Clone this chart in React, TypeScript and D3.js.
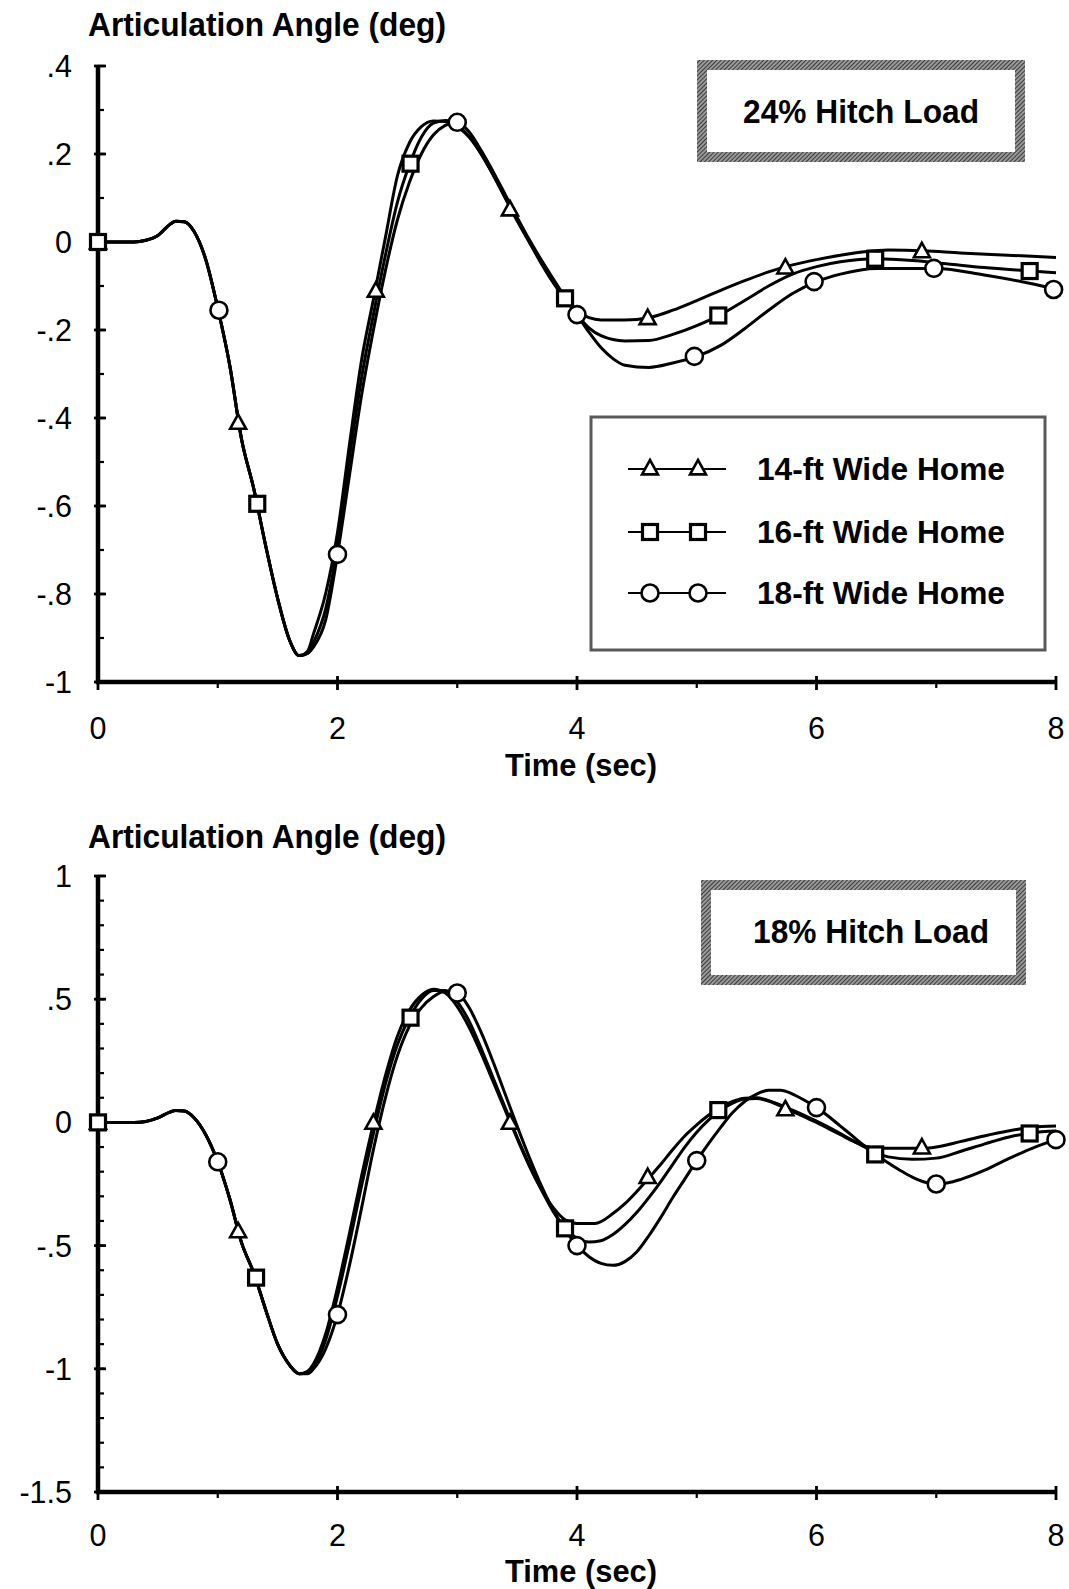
import React from "react";
import * as d3 from "d3";

// ---------- DATA ----------
const xTicks = [0, 2, 4, 6, 8];
const xMinor = [1, 3, 5, 7];
const topYTicks = [0.4, 0.2, 0, -0.2, -0.4, -0.6, -0.8, -1];
const topYLabels = [".4", ".2", "0", "-.2", "-.4", "-.6", "-.8", "-1"];
const botYTicks = [1, 0.5, 0, -0.5, -1, -1.5];
const botYLabels = ["1", ".5", "0", "-.5", "-1", "-1.5"];
const seriesNames = ["14-ft Wide Home", "16-ft Wide Home", "18-ft Wide Home"];
const topTitle = "24% Hitch Load";
const botTitle = "18% Hitch Load";

const topStart: [number, number][] = [[0,0],[0.3,0],[0.4,0.004],[0.5,0.015],[0.6,0.04],[0.65,0.047],[0.72,0.046],[0.8,0.025],[0.9,-0.04],[1.0,-0.15],[1.1,-0.28],[1.2,-0.45],[1.3,-0.56],[1.4,-0.69],[1.5,-0.81],[1.6,-0.905],[1.68,-0.94]];
const top14: [number, number][] = [[1.75,-0.93],[1.8,-0.89],[1.9,-0.8],[2.0,-0.66],[2.1,-0.46],[2.2,-0.27],[2.3,-0.13],[2.4,0.01],[2.5,0.15],[2.6,0.225],[2.7,0.262],[2.8,0.275],[2.9,0.274],[3.0,0.262],[3.1,0.238],[3.2,0.2],[3.3,0.152],[3.4,0.1],[3.5,0.048],[3.6,0.0],[3.7,-0.048],[3.8,-0.092],[3.9,-0.13],[4.0,-0.158],[4.1,-0.172],[4.2,-0.177],[4.4,-0.177],[4.6,-0.172],[4.8,-0.155],[5.0,-0.133],[5.2,-0.11],[5.4,-0.088],[5.6,-0.068],[5.8,-0.052],[6.0,-0.04],[6.2,-0.03],[6.4,-0.022],[6.6,-0.018],[6.9,-0.02],[7.2,-0.025],[7.6,-0.03],[8.0,-0.035]];
const top16: [number, number][] = [[1.75,-0.935],[1.8,-0.91],[1.9,-0.835],[2.0,-0.69],[2.1,-0.49],[2.2,-0.31],[2.3,-0.165],[2.4,-0.03],[2.5,0.09],[2.6,0.175],[2.7,0.238],[2.8,0.27],[2.9,0.276],[3.0,0.265],[3.1,0.24],[3.2,0.2],[3.3,0.153],[3.4,0.103],[3.5,0.052],[3.6,0.004],[3.7,-0.042],[3.8,-0.087],[3.9,-0.128],[4.0,-0.165],[4.1,-0.195],[4.2,-0.213],[4.4,-0.225],[4.6,-0.224],[4.8,-0.21],[5.0,-0.19],[5.2,-0.165],[5.4,-0.133],[5.6,-0.1],[5.8,-0.073],[6.0,-0.056],[6.2,-0.045],[6.5,-0.038],[6.8,-0.042],[7.1,-0.05],[7.4,-0.058],[7.8,-0.066],[8.0,-0.07]];
const top18: [number, number][] = [[1.75,-0.935],[1.8,-0.92],[1.9,-0.86],[2.0,-0.71],[2.1,-0.53],[2.2,-0.35],[2.3,-0.2],[2.4,-0.065],[2.5,0.05],[2.6,0.135],[2.7,0.2],[2.8,0.243],[2.9,0.265],[3.0,0.272],[3.1,0.25],[3.2,0.208],[3.3,0.16],[3.4,0.108],[3.5,0.056],[3.6,0.006],[3.7,-0.04],[3.8,-0.083],[3.9,-0.125],[4.0,-0.165],[4.1,-0.205],[4.2,-0.24],[4.3,-0.265],[4.4,-0.28],[4.6,-0.285],[4.8,-0.275],[5.0,-0.26],[5.2,-0.235],[5.4,-0.197],[5.6,-0.155],[5.8,-0.117],[6.0,-0.09],[6.2,-0.073],[6.5,-0.06],[7.0,-0.06],[7.4,-0.075],[7.8,-0.095],[8.0,-0.108]];
const topTri: [number, number][] = [[0,0],[1.17,-0.41],[2.32,-0.11],[3.44,0.075],[4.59,-0.172],[5.74,-0.057],[6.88,-0.02]];
const topSq: [number, number][] = [[0,0],[1.33,-0.595],[2.61,0.178],[3.9,-0.128],[5.18,-0.167],[6.49,-0.038],[7.78,-0.066]];
const topCirc: [number, number][] = [[1.01,-0.155],[2.0,-0.71],[3.0,0.272],[4.0,-0.165],[4.98,-0.26],[5.98,-0.09],[6.98,-0.06],[7.98,-0.108]];

const botStart: [number, number][] = [[0,0],[0.3,0],[0.4,0.004],[0.5,0.018],[0.6,0.042],[0.65,0.048],[0.72,0.046],[0.8,0.02],[0.9,-0.05],[1.0,-0.16],[1.1,-0.31],[1.2,-0.49],[1.3,-0.61],[1.4,-0.76],[1.5,-0.9],[1.6,-0.985],[1.68,-1.02]];
const bot14: [number, number][] = [[1.75,-1.01],[1.8,-0.98],[1.9,-0.86],[2.0,-0.67],[2.1,-0.45],[2.2,-0.22],[2.3,-0.005],[2.4,0.19],[2.5,0.35],[2.6,0.455],[2.7,0.515],[2.8,0.54],[2.9,0.525],[3.0,0.47],[3.1,0.385],[3.2,0.28],[3.3,0.165],[3.4,0.05],[3.5,-0.065],[3.6,-0.175],[3.7,-0.27],[3.8,-0.345],[3.9,-0.395],[4.0,-0.41],[4.15,-0.41],[4.3,-0.37],[4.4,-0.33],[4.5,-0.28],[4.6,-0.225],[4.7,-0.17],[4.8,-0.11],[4.9,-0.055],[5.0,-0.01],[5.1,0.03],[5.2,0.062],[5.3,0.085],[5.4,0.098],[5.5,0.1],[5.6,0.088],[5.75,0.055],[5.9,0.022],[6.0,0.0],[6.1,-0.025],[6.2,-0.05],[6.3,-0.075],[6.4,-0.095],[6.5,-0.105],[6.9,-0.105],[7.0,-0.1],[7.2,-0.078],[7.4,-0.055],[7.6,-0.035],[7.8,-0.02],[8.0,-0.015]];
const bot16: [number, number][] = [[1.75,-1.015],[1.8,-0.99],[1.9,-0.885],[2.0,-0.705],[2.1,-0.49],[2.2,-0.26],[2.3,-0.045],[2.4,0.155],[2.5,0.315],[2.6,0.425],[2.7,0.5],[2.8,0.535],[2.9,0.535],[3.0,0.49],[3.1,0.41],[3.2,0.3],[3.3,0.18],[3.4,0.06],[3.5,-0.06],[3.6,-0.17],[3.7,-0.27],[3.8,-0.36],[3.9,-0.43],[4.0,-0.47],[4.1,-0.485],[4.2,-0.48],[4.3,-0.455],[4.4,-0.415],[4.5,-0.365],[4.6,-0.305],[4.7,-0.24],[4.8,-0.17],[4.9,-0.1],[5.0,-0.04],[5.1,0.01],[5.2,0.05],[5.3,0.078],[5.4,0.095],[5.5,0.097],[5.6,0.087],[5.8,0.05],[6.0,0.005],[6.2,-0.045],[6.4,-0.1],[6.5,-0.125],[6.6,-0.14],[6.8,-0.15],[7.0,-0.145],[7.2,-0.118],[7.4,-0.088],[7.6,-0.06],[7.8,-0.042],[8.0,-0.035]];
const bot18: [number, number][] = [[1.75,-1.02],[1.8,-1.0],[1.9,-0.92],[2.0,-0.78],[2.1,-0.58],[2.2,-0.35],[2.3,-0.11],[2.4,0.1],[2.5,0.27],[2.6,0.39],[2.7,0.465],[2.8,0.51],[2.9,0.532],[3.0,0.525],[3.1,0.465],[3.2,0.365],[3.3,0.245],[3.4,0.115],[3.5,-0.015],[3.6,-0.14],[3.7,-0.255],[3.8,-0.355],[3.9,-0.435],[4.0,-0.5],[4.1,-0.545],[4.2,-0.572],[4.3,-0.58],[4.4,-0.565],[4.5,-0.525],[4.6,-0.46],[4.7,-0.385],[4.8,-0.305],[4.9,-0.23],[5.0,-0.155],[5.1,-0.085],[5.2,-0.02],[5.3,0.04],[5.4,0.085],[5.5,0.115],[5.6,0.13],[5.7,0.13],[5.8,0.115],[5.9,0.09],[6.0,0.06],[6.1,0.025],[6.2,-0.015],[6.3,-0.055],[6.4,-0.095],[6.5,-0.13],[6.6,-0.165],[6.7,-0.195],[6.8,-0.222],[6.9,-0.242],[7.0,-0.25],[7.1,-0.245],[7.2,-0.232],[7.4,-0.195],[7.6,-0.148],[7.8,-0.105],[8.0,-0.07]];
const botTri: [number, number][] = [[0,0],[1.17,-0.44],[2.3,0.0],[3.44,0.0],[4.59,-0.22],[5.74,0.055],[6.88,-0.1]];
const botSq: [number, number][] = [[0,0],[1.32,-0.63],[2.61,0.425],[3.9,-0.43],[5.18,0.05],[6.49,-0.13],[7.78,-0.045]];
const botCirc: [number, number][] = [[1.0,-0.16],[2.0,-0.78],[3.0,0.525],[4.0,-0.5],[5.0,-0.155],[6.0,0.06],[7.0,-0.25],[8.0,-0.07]];

// ---------- RENDER ----------
const FONT = "'Liberation Sans', Arial, Helvetica, sans-serif";
const LW = 3;

function Tri({ x, y }: { x: number; y: number }) {
  const s = 8;
  return <path d={`M${x},${y - s}L${x + s},${y + s * 0.8}L${x - s},${y + s * 0.8}Z`} fill="#fff" stroke="#000" strokeWidth={2.6} strokeLinejoin="miter" />;
}
function Sq({ x, y }: { x: number; y: number }) {
  const s = 7.5;
  return <rect x={x - s} y={y - s} width={2 * s} height={2 * s} fill="#fff" stroke="#000" strokeWidth={3.2} />;
}
function Circ({ x, y }: { x: number; y: number }) {
  return <circle cx={x} cy={y} r={8.5} fill="#fff" stroke="#000" strokeWidth={2.6} />;
}

function HatchBox({ x, y, w, h, t, label, tx, ty }: any) {
  return (
    <g>
      <rect x={x} y={y} width={w} height={h} fill="url(#hatch)" />
      <rect x={x + t} y={y + t} width={w - 2 * t} height={h - 2 * t} fill="#fff" />
      <text x={tx} y={ty} textAnchor="middle" fontFamily={FONT} fontWeight="bold" fontSize={33} textLength={236} lengthAdjust="spacingAndGlyphs">{label}</text>
    </g>
  );
}

function Panel({ y0, y1, yDomain, yTicks, yLabels, minorStep, curves, tri, sq, circ, title, titleY, xLabelY, xTitleY }: any) {
  const x = d3.scaleLinear().domain([0, 8]).range([98, 1056]);
  const y = d3.scaleLinear().domain(yDomain).range([y1, y0]);
  const line = d3.line<[number, number]>().x(d => x(d[0])).y(d => y(d[1])).curve(d3.curveMonotoneX);
  const minor: number[] = [];
  const lo = yDomain[0], hi = yDomain[1];
  const n = Math.round((hi - lo) / minorStep);
  for (let i = 0; i <= n; i++) minor.push(lo + i * minorStep);
  const ax = x(0), ay = y(lo);
  return (
    <g>
      <text x={88} y={titleY} fontFamily={FONT} fontWeight="bold" fontSize={33} textLength={358} lengthAdjust="spacingAndGlyphs">{title}</text>
      {minor.map((v, i) => <line key={"m" + i} x1={ax} x2={ax + 6} y1={y(v)} y2={y(v)} stroke="#000" strokeWidth={2.2} />)}
      {yTicks.map((v: number, i: number) => (
        <g key={"y" + i}>
          <line x1={ax - 4} x2={ax + 8} y1={y(v)} y2={y(v)} stroke="#000" strokeWidth={2.8} />
          <text x={72} y={y(v) + 11} textAnchor="end" fontFamily={FONT} fontSize={30.5}>{yLabels[i]}</text>
        </g>
      ))}
      {xMinor.map((v, i) => <line key={"xm" + i} x1={x(v)} x2={x(v)} y1={ay} y2={ay + 6} stroke="#000" strokeWidth={2.2} />)}
      {xTicks.map((v, i) => (
        <g key={"x" + i}>
          <line x1={x(v)} x2={x(v)} y1={ay - 6} y2={ay + 8} stroke="#000" strokeWidth={2.8} />
          <text x={x(v)} y={xLabelY} textAnchor="middle" fontFamily={FONT} fontSize={30.5}>{v}</text>
        </g>
      ))}
      <line x1={ax} x2={ax} y1={y(hi)} y2={ay + 2} stroke="#000" strokeWidth={4.5} />
      <line x1={ax - 2} x2={x(8)} y1={ay} y2={ay} stroke="#000" strokeWidth={4.5} />
      <text x={581} y={xTitleY} textAnchor="middle" fontFamily={FONT} fontWeight="bold" fontSize={32} textLength={152} lengthAdjust="spacingAndGlyphs">Time (sec)</text>
      {curves.map((c: [number, number][], i: number) => (
        <path key={"c" + i} d={line(c) || ""} fill="none" stroke="#000" strokeWidth={LW} strokeLinejoin="round" />
      ))}
      {circ.map((d: [number, number], i: number) => <Circ key={"ci" + i} x={x(d[0])} y={y(d[1])} />)}
      {tri.map((d: [number, number], i: number) => <Tri key={"t" + i} x={x(d[0])} y={y(d[1])} />)}
      {sq.map((d: [number, number], i: number) => <Sq key={"s" + i} x={x(d[0])} y={y(d[1])} />)}
    </g>
  );
}

export default function App() {
  const legendRows = [469, 532, 593];
  return (
    <svg width={1069} height={1589} style={{ position: "absolute", left: 0, top: 0, background: "#fff" }}>
      <defs>
        <pattern id="hatch" width={3} height={3} patternUnits="userSpaceOnUse" patternTransform="rotate(45)">
          <rect width={3} height={3} fill="#9a9a9a" />
          <line x1={0} y1={0} x2={0} y2={3} stroke="#1a1a1a" strokeWidth={1.5} />
        </pattern>
      </defs>
      <rect width={1069} height={1589} fill="#fff" />
      <Panel y0={66} y1={682} yDomain={[-1, 0.4]} yTicks={topYTicks} yLabels={topYLabels} minorStep={0.1}
        curves={[topStart.concat(top14), topStart.concat(top16), topStart.concat(top18)]}
        tri={topTri} sq={topSq} circ={topCirc} title="Articulation Angle (deg)" titleY={36} xLabelY={739} xTitleY={776} />
      <Panel y0={876} y1={1492} yDomain={[-1.5, 1]} yTicks={botYTicks} yLabels={botYLabels} minorStep={0.1}
        curves={[botStart.concat(bot14), botStart.concat(bot16), botStart.concat(bot18)]}
        tri={botTri} sq={botSq} circ={botCirc} title="Articulation Angle (deg)" titleY={848} xLabelY={1546} xTitleY={1582} />
      <HatchBox x={697} y={60} w={328} h={102} t={10} label={topTitle} tx={861} ty={123} />
      <HatchBox x={701} y={880} w={325} h={105} t={10} label={botTitle} tx={871} ty={943} />
      <rect x={591} y={417} width={454} height={233} fill="#fff" stroke="#5a5a5a" strokeWidth={3} />
      {legendRows.map((ry, i) => (
        <g key={"lg" + i}>
          <line x1={628} x2={726} y1={ry} y2={ry} stroke="#000" strokeWidth={2.2} />
          {i === 0 && <><Tri x={650} y={ry - 1} /><Tri x={698} y={ry - 1} /></>}
          {i === 1 && <><Sq x={650} y={ry} /><Sq x={698} y={ry} /></>}
          {i === 2 && <><Circ x={650} y={ry} /><Circ x={698} y={ry} /></>}
          <text x={757} y={ry + 11} fontFamily={FONT} fontWeight="bold" fontSize={31} textLength={248} lengthAdjust="spacingAndGlyphs">{seriesNames[i]}</text>
        </g>
      ))}
    </svg>
  );
}
